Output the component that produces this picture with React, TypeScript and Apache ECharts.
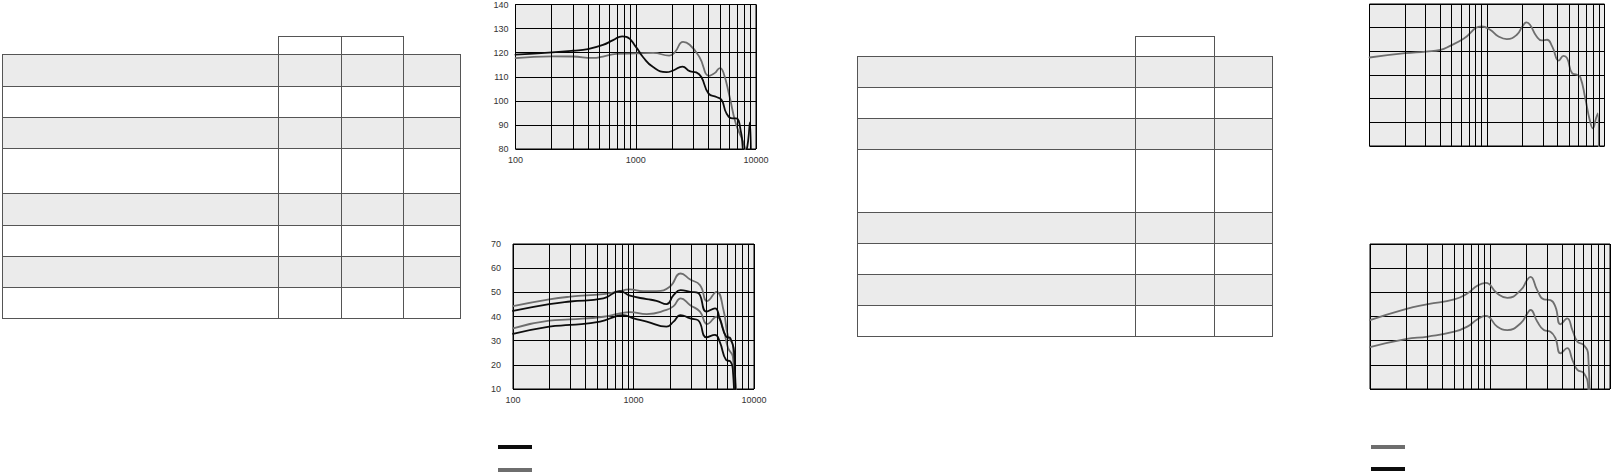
import React, { useEffect, useRef } from "react";
import * as echarts from "echarts";

// Frequency axis: decade ticks and the in-between gridlines (Hz)
const freqTicks = [100, 1000, 10000];
const freqMinorLines = [200, 300, 400, 500, 600, 700, 800, 900, 2000, 3000, 4000, 5000, 6000, 7000, 8000, 9000];

// Level axes (tick labels)
const upperLevelTicks = [80, 90, 100, 110, 120, 130, 140];
const lowerLevelTicks = [10, 20, 30, 40, 50, 60, 70];

// Upper-left response: [frequency Hz, level]
const upperLeftBlack = [
  [100, 119.2], [202, 120.1], [300, 120.8], [400, 121.5], [534, 123.2], [648, 125.2], [772, 126.8],
  [836, 126.6], [1010, 122.2], [1152, 118.1], [1395, 114], [1800, 111.9], [2050, 112.6], [2444, 114.2],
  [2809, 112.3], [3187, 111.8], [3512, 109.9], [4035, 103], [4700, 101.6], [5190, 100.3], [5680, 94.8],
  [6420, 92.7], [6850, 92.7], [7530, 86.6], [7950, 79], [8350, 79.5], [8900, 91], [9080, 70],
];
const upperLeftGray = [
  [100, 117.7], [202, 118.5], [300, 118.4], [441, 117.8], [534, 118.4], [689, 119.5], [1010, 119.7],
  [1395, 119.9], [1898, 118.8], [2110, 120.1], [2474, 124.5], [2809, 123.3], [3392, 118.1], [4086, 110.4],
  [4527, 111.5], [5012, 113.6], [5350, 111.9], [6040, 101.6], [6780, 90.7], [7700, 83.8], [8100, 80.4],
  [8600, 75],
];

// Lower-left response curves
const lowerLeftGrayHigh = [
  [100, 44.3], [200, 47.1], [298, 48.2], [562, 49.3], [725, 50.2], [935, 51.2], [1204, 50.5], [1550, 50.5],
  [2000, 52.3], [2461, 57.8], [2955, 55.3], [3561, 53], [4092, 46.4], [4885, 50.2], [5581, 42.7],
  [6096, 31.7], [6673, 28.2], [7113, 0],
];
const lowerLeftBlackHigh = [
  [100, 42.3], [200, 45.1], [298, 46.2], [562, 47.5], [770, 50.5], [935, 48.6], [1288, 47.2], [1550, 46.5],
  [1880, 45.1], [2150, 48.8], [2461, 50.9], [2955, 50.2], [3425, 49.8], [4036, 42], [4744, 43.4],
  [5190, 39.2], [5870, 31.7], [6375, 31], [6900, 22], [7050, 0],
];
const lowerLeftGrayLow = [
  [100, 35.1], [200, 38.3], [298, 38.8], [562, 39.9], [770, 41.3], [935, 41.8], [1288, 41], [1880, 42.7],
  [2150, 44.3], [2461, 47.5], [2955, 44.7], [3561, 42], [4092, 36.9], [4885, 39.9], [5581, 34.4],
  [6096, 26.9], [6673, 23.4], [7113, 0],
];
const lowerLeftBlackLow = [
  [100, 32.8], [200, 35.8], [298, 36.5], [528, 37.9], [725, 40.2], [822, 40.6], [1000, 39.2], [1288, 37.9],
  [1880, 35.8], [2150, 37.9], [2461, 40.6], [2955, 39.2], [3425, 38.5], [4036, 31.4], [4744, 32.4],
  [5190, 29.6], [5870, 22], [6375, 21.4], [6673, 18], [6900, 0],
];

// Upper-right response
const upperRightGray = [
  [100, 117.4], [201, 119.2], [302, 119.9], [402, 120.6], [485, 122.3], [632, 125.3], [903, 130.5],
  [1063, 129.1], [1253, 126.3], [1474, 125.2], [1795, 127], [2000, 130.5], [2170, 132.2], [2323, 131.2],
  [2645, 126.3], [2930, 124.6], [3241, 124.9], [3585, 122.1], [4089, 116.1], [4479, 118.1], [4805, 117.1],
  [5298, 110.8], [5840, 110.1], [6222, 109.1], [6860, 100.2], [7484, 91], [7954, 87.5], [8470, 91.7],
  [8765, 93.8], [8960, 70],
];

// Lower-right response curves
const lowerRightHigh = [
  [100, 38.5], [198, 43.1], [304, 45.1], [504, 47.1], [647, 49.5], [782, 52.7], [921, 53.9], [1152, 49.5],
  [1395, 47.7], [1802, 50.9], [2050, 55.3], [2175, 56.4], [2474, 50.9], [2809, 47.1], [3187, 46.8],
  [3512, 44], [3869, 36.8], [4398, 39.2], [4859, 34.4], [5350, 29.6], [6040, 28.2], [6580, 24.1], [6800, 0],
];
const lowerRightLow = [
  [100, 27.3], [198, 30.6], [304, 31.7], [504, 33.7], [647, 35.8], [782, 38.8], [921, 40.3], [1152, 35.8],
  [1395, 34.4], [1802, 37.2], [2050, 41.3], [2175, 42.7], [2474, 37.9], [2809, 34.4], [3187, 33.7],
  [3512, 31], [3869, 24.8], [4398, 26.9], [4859, 22.1], [5350, 17.9], [6040, 16.6], [6580, 11], [6700, 0],
];

const BLACK = "#0d0d0d";
const GRAY = "#6e6e6e";
const PANEL = "#ebebeb";
const RULE = "#555555";

type Table = { cols: number[]; rows: number[]; headTop: number; headFrom: number; headTo: number };

// Empty spec tables (cell edges in px)
const leftTable: Table = {
  cols: [2, 278, 341, 403, 460],
  rows: [54, 86, 117, 148, 193, 225, 256, 287, 318],
  headTop: 36, headFrom: 1, headTo: 3,
};
const rightTable: Table = {
  cols: [857, 1135, 1214, 1272],
  rows: [56, 87, 118, 149, 212, 243, 274, 305, 336],
  headTop: 36, headFrom: 1, headTo: 2,
};

function tableElements(t: Table) {
  const els: any[] = [];
  const x0 = t.cols[0];
  const x1 = t.cols[t.cols.length - 1];
  const y0 = t.rows[0];
  const y1 = t.rows[t.rows.length - 1];
  for (let i = 0; i < t.rows.length - 1; i += 2) {
    els.push({
      type: "rect", silent: true,
      shape: { x: x0, y: t.rows[i], width: x1 - x0, height: t.rows[i + 1] - t.rows[i] },
      style: { fill: PANEL },
    });
  }
  const line = (a: number, b: number, c: number, d: number) => ({
    type: "line", silent: true,
    shape: { x1: a, y1: b, x2: c, y2: d },
    style: { stroke: RULE, lineWidth: 1 },
  });
  t.rows.forEach((y) => els.push(line(x0, y + 0.5, x1 + 1, y + 0.5)));
  t.cols.forEach((x) => els.push(line(x + 0.5, y0, x + 0.5, y1 + 1)));
  const hx0 = t.cols[t.headFrom];
  const hx1 = t.cols[t.headTo];
  els.push(line(hx0, t.headTop + 0.5, hx1 + 1, t.headTop + 0.5));
  for (let c = t.headFrom; c <= t.headTo; c++) {
    els.push(line(t.cols[c] + 0.5, t.headTop, t.cols[c] + 0.5, y0));
  }
  return els;
}

function legendBar(x: number, y: number, color: string) {
  return { type: "rect", silent: true, shape: { x, y, width: 34, height: 4 }, style: { fill: color } };
}

const labelFont = { fontFamily: "Liberation Sans, Arial, sans-serif", fontSize: 9, color: "#333" };

export default function App() {
  const ref = useRef<HTMLDivElement>(null);

  useEffect(() => {
    if (!ref.current) return;
    const chart = echarts.init(ref.current, null, { renderer: "svg" });

    const grids = [
      { left: 515.5, top: 3.5, width: 240.5, height: 145.5 },
      { left: 513, top: 244, width: 241, height: 145 },
      { left: 1369.5, top: 4, width: 235, height: 142 },
      { left: 1370, top: 244, width: 240, height: 145 },
    ].map((g) => ({ ...g, show: true, backgroundColor: PANEL, borderColor: "#000", borderWidth: 1 }));

    const showLabels = [true, true, false, false];
    const levelTicks = [upperLevelTicks, lowerLevelTicks, upperLevelTicks, lowerLevelTicks];
    const yMargins = [7, 12, 8, 8];

    const xAxes = grids.map((_, i) => ({
      type: "log", logBase: 10, gridIndex: i,
      min: freqTicks[0], max: freqTicks[freqTicks.length - 1],
      axisLine: { show: false }, axisTick: { show: false },
      axisLabel: {
        show: showLabels[i], margin: 6, ...labelFont,
        formatter: (v: number) => String(Math.round(v)),
      },
      splitLine: { show: true, lineStyle: { color: "#000", width: 1 } },
    }));

    const yAxes = grids.map((_, i) => {
      const ticks = levelTicks[i];
      return {
        type: "value", gridIndex: i,
        min: ticks[0], max: ticks[ticks.length - 1], interval: ticks[1] - ticks[0],
        axisLine: { show: false }, axisTick: { show: false },
        axisLabel: { show: showLabels[i], margin: yMargins[i], ...labelFont },
        splitLine: { show: true, lineStyle: { color: "#000", width: 1 } },
      };
    });

    // Carrier series for the in-decade frequency gridlines
    const gridLineSeries = grids.map((_, i) => ({
      type: "line", xAxisIndex: i, yAxisIndex: i, data: [], z: 1, silent: true,
      markLine: {
        silent: true, symbol: ["none", "none"], label: { show: false },
        lineStyle: { color: "#000", width: 1, type: "solid" },
        emphasis: { disabled: true },
        data: freqMinorLines.map((f) => ({ xAxis: f })),
      },
    }));

    const curve = (i: number, data: number[][], color: string) => ({
      type: "line", xAxisIndex: i, yAxisIndex: i, data, z: 3,
      showSymbol: false, symbol: "none", smooth: 0.5,
      clip: true, silent: true,
      lineStyle: { color, width: 1.8, join: "round", cap: "round" },
    });

    const option = {
      animation: false,
      grid: grids,
      xAxis: xAxes,
      yAxis: yAxes,
      series: [
        ...gridLineSeries,
        curve(0, upperLeftGray, GRAY),
        curve(0, upperLeftBlack, BLACK),
        curve(1, lowerLeftGrayHigh, GRAY),
        curve(1, lowerLeftGrayLow, GRAY),
        curve(1, lowerLeftBlackHigh, BLACK),
        curve(1, lowerLeftBlackLow, BLACK),
        curve(2, upperRightGray, GRAY),
        curve(3, lowerRightHigh, GRAY),
        curve(3, lowerRightLow, GRAY),
      ],
      graphic: [
        ...tableElements(leftTable),
        ...tableElements(rightTable),
        legendBar(498, 445, BLACK),
        legendBar(498, 468, GRAY),
        legendBar(1371, 445, GRAY),
        legendBar(1371, 467, BLACK),
      ],
    };

    chart.setOption(option as any);
    return () => chart.dispose();
  }, []);

  return (
    <div
      ref={ref}
      style={{ position: "absolute", left: 0, top: 0, width: 1611, height: 472, background: "#fff" }}
    />
  );
}
